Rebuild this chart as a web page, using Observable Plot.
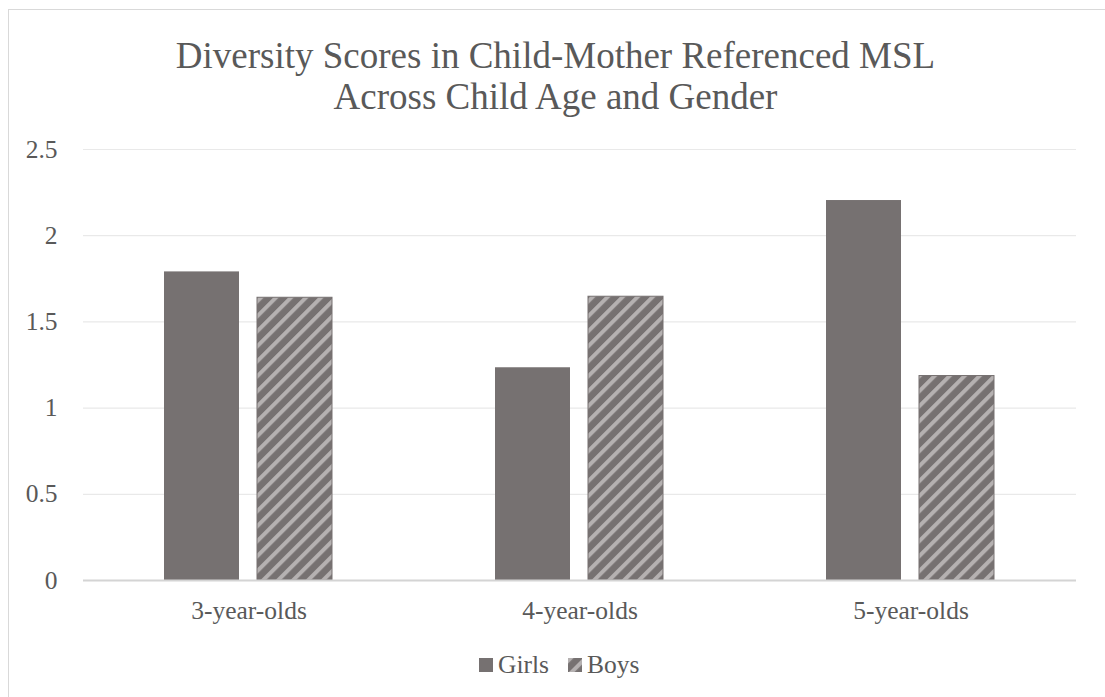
<!DOCTYPE html>
<html><head><meta charset="utf-8">
<script src="https://cdn.jsdelivr.net/npm/d3@7"></script>
<script src="https://cdn.jsdelivr.net/npm/@observablehq/plot@0.6"></script>
<style>
body{margin:0;background:#fff;overflow:hidden;font-family:'Liberation Serif','Tinos','Times New Roman','DejaVu Serif',serif;color:#595959}
#wrap{position:relative;width:1105px;height:697px;overflow:hidden;background:#fff}
#frame{position:absolute;left:8px;top:9px;width:1110px;height:720px;border:1.5px solid #d9d9d9;box-sizing:border-box}
#title{position:absolute;left:0;width:1111px;top:35px;text-align:center;font-size:37px;line-height:41px;color:#595959}
#chart{position:absolute;left:0;top:120px}
#legend{position:absolute;left:479px;top:652px;display:flex;align-items:center;font-size:25.5px;line-height:25px;color:#595959}
.sw{width:14px;height:14px;margin-right:5px;display:inline-block}
.item{display:flex;align-items:center;margin-right:19px}
</style></head>
<body>
<div id="wrap">
  <div id="frame"></div>
  <div id="title">Diversity Scores in Child-Mother Referenced MSL<br>Across Child Age and Gender</div>
  <div id="chart"></div>
  <div id="legend"></div>
</div>
<script>
const categories = ["3-year-olds", "4-year-olds", "5-year-olds"];
const series = ["Girls", "Boys"];
const girls = [1.79, 1.234, 2.204];
const boys = [1.64, 1.646, 1.186];
const yTicks = [0, 0.5, 1, 1.5, 2, 2.5];

const data = [];
categories.forEach((c, i) => {
  data.push({category: c, gender: "Girls", value: girls[i]});
  data.push({category: c, gender: "Boys", value: boys[i]});
});

const GREY = "#767171";
const fillFor = g => g === "Girls" ? GREY : "url(#hatch)";
const FONT = "'Liberation Serif','Tinos','Times New Roman','DejaVu Serif',serif";

const chart = Plot.plot({
  width: 1105,
  height: 520,
  marginLeft: 82,
  marginRight: 28,
  marginTop: 29,
  marginBottom: 60,
  style: {fontFamily: FONT, fontSize: "25.5px", color: "#595959", background: "transparent"},
  fx: {domain: categories, padding: 0, label: null, axis: "bottom", tickSize: 0, tickPadding: 20},
  x: {domain: series, paddingInner: 0.19, paddingOuter: 0.86, axis: null},
  y: {domain: [0, 2.5], ticks: yTicks, tickSize: 0, tickPadding: 26, label: null, tickFormat: d => String(d)},
  facet: {data: data, x: "category"},
  marks: [
    Plot.ruleY(yTicks.filter(d => d > 0), {stroke: "#e9e9e9", strokeWidth: 1.2}),
    Plot.barY(data, {x: "gender", y: "value", fill: d => fillFor(d.gender), stroke: d => d.gender === "Boys" ? GREY : "none", strokeWidth: 1, inset: 0}),
    Plot.ruleY([0], {stroke: "#d4d4d4", strokeWidth: 1.8})
  ]
});

const svgNS = "http://www.w3.org/2000/svg";
const defs = document.createElementNS(svgNS, "defs");
defs.innerHTML = `<pattern id="hatch" patternUnits="userSpaceOnUse" width="10.6" height="10.6" patternTransform="rotate(45)">
  <rect width="10.6" height="10.6" fill="${GREY}"/>
  <rect x="0" y="0" width="4" height="10.6" fill="#b5b1b1"/>
</pattern>`;
chart.insertBefore(defs, chart.firstChild);
document.getElementById("chart").appendChild(chart);

const legend = document.getElementById("legend");
series.forEach(s => {
  const item = document.createElement("span");
  item.className = "item";
  const sw = document.createElementNS(svgNS, "svg");
  sw.setAttribute("width", 14); sw.setAttribute("height", 14);
  sw.setAttribute("class", "sw");
  const r = document.createElementNS(svgNS, "rect");
  r.setAttribute("width", 14); r.setAttribute("height", 14);
  r.setAttribute("fill", fillFor(s));
  sw.appendChild(r);
  item.appendChild(sw);
  const t = document.createElement("span");
  t.textContent = s;
  item.appendChild(t);
  legend.appendChild(item);
});
</script>
</body></html>
